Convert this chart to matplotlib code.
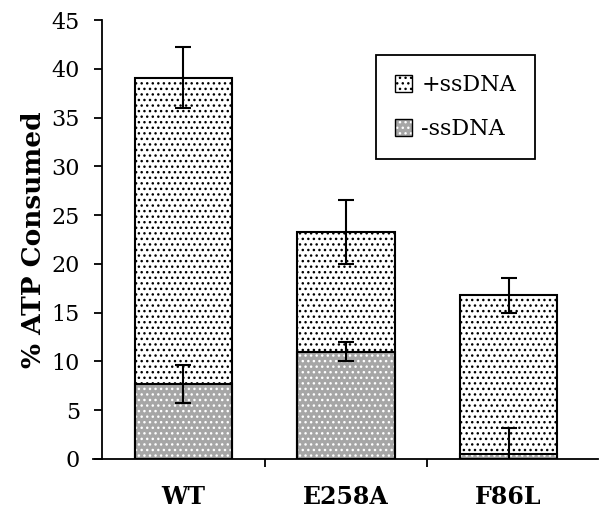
import numpy as np
import matplotlib
matplotlib.use("Agg")
import matplotlib.pyplot as plt
from matplotlib.patches import Patch

# data
groups = ["WT", "E258A", "F86L"]
plus_ss = [39.1, 23.3, 16.8]
plus_err = [3.1, 3.3, 1.8]
minus_ss = [7.7, 11.0, 0.5]
minus_err = [1.95, 1.0, 2.7]

plt.rcParams['font.family'] = ['DejaVu Serif']
plt.rcParams['hatch.linewidth'] = 1.0

fig = plt.figure(figsize=(6.01, 5.16), dpi=100)
ax = fig.add_axes([0.17, 0.1105, 0.825, 0.8505])

x = np.arange(len(groups))
w = 0.6

# +ssDNA: white with black dots
ax.bar(x, plus_ss, w, color='white', edgecolor='black', hatch='...', linewidth=0, zorder=2)
# -ssDNA: gray with white dots
ax.bar(x, minus_ss, w, color='#a6a6a6', edgecolor='white', hatch='...', linewidth=0, zorder=3)
# outlines
ax.bar(x, plus_ss, w, fill=False, edgecolor='black', linewidth=1.5, zorder=4)
ax.bar(x, minus_ss, w, fill=False, edgecolor='black', linewidth=1.5, zorder=4)

ax.errorbar(x, plus_ss, yerr=plus_err, fmt='none', ecolor='black', elinewidth=1.5, capsize=6, capthick=1.5, zorder=5)
ax.errorbar(x, minus_ss, yerr=minus_err, fmt='none', ecolor='black', elinewidth=1.5, capsize=6, capthick=1.5, zorder=5)

ax.set_xlim(-0.5, 2.55)
ax.set_ylim(0, 45)
ax.set_yticks(np.arange(0, 46, 5))
ax.set_xticks(x)
ax.set_xticklabels(groups, fontweight='bold', fontsize=17)
ax.set_xticks([0.5, 1.5], minor=True)
ax.tick_params(axis='x', which='major', length=0, pad=19)
ax.tick_params(axis='x', which='minor', length=6, width=1.3, direction='out')
ax.tick_params(axis='y', labelsize=16, length=6, width=1.3, direction='out', pad=10)
for s in ['top', 'right']:
    ax.spines[s].set_visible(False)
for s in ['left', 'bottom']:
    ax.spines[s].set_linewidth(1.3)
# x axis line pokes a little past the y axis
ax.plot([-0.018, 0], [0, 0], transform=ax.transAxes, color='black', lw=1.3, clip_on=False)
ax.set_ylabel("% ATP Consumed", fontweight='bold', fontsize=19, labelpad=4)

h_plus = (Patch(facecolor='white', edgecolor='black', hatch='...', linewidth=0),
          Patch(facecolor='none', edgecolor='black', linewidth=1))
h_minus = (Patch(facecolor='#a6a6a6', edgecolor='white', hatch='...', linewidth=0),
           Patch(facecolor='none', edgecolor='black', linewidth=1))
leg = ax.legend([h_plus, h_minus], ["+ssDNA", "-ssDNA"], loc='upper right',
                bbox_to_anchor=(0.895, 0.945), fontsize=16, fancybox=False,
                edgecolor='black', framealpha=1, borderpad=0.85, labelspacing=1.0,
                handlelength=0.8, handleheight=0.8, handletextpad=0.4)
leg.get_frame().set_linewidth(1.3)

fig.savefig("out.png", dpi=100)
